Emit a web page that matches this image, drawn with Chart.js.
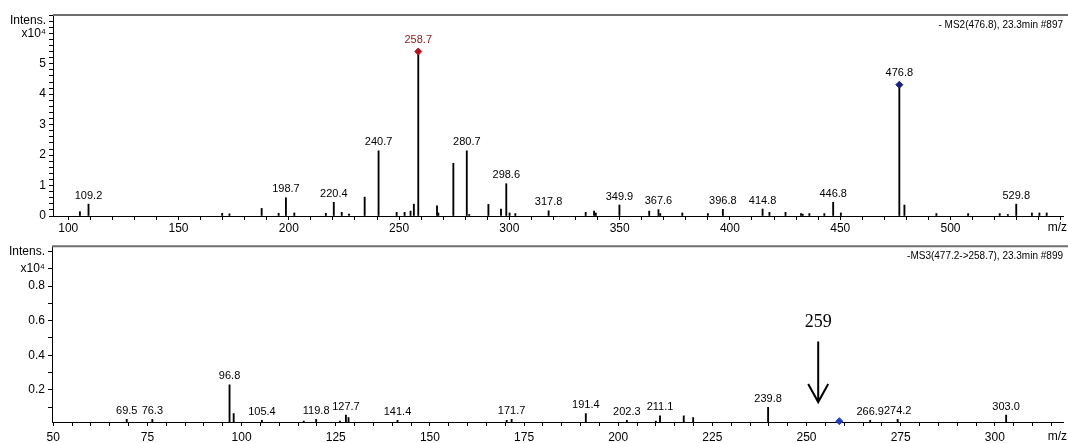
<!DOCTYPE html>
<html>
<head>
<meta charset="utf-8">
<script src="https://cdn.jsdelivr.net/npm/chart.js@4"></script>
<style>
  html, body { margin: 0; padding: 0; background: #fff; }
  .box { position: relative; width: 1068px; }
</style>
</head>
<body>
<div class="box" style="height:236px"><canvas id="chartMs2"></canvas></div>
<div class="box" style="height:207px"><canvas id="chartMs3"></canvas></div>
<script>
// MS2 spectrum (x10^4)
const ms2Mz = [105.3, 109.2, 169.8, 173.1, 187.7, 195.4, 198.7, 202.5, 216.8, 220.4,
  224.0, 227.3, 234.4, 240.7, 248.9, 252.5, 255.2, 256.7, 258.7, 267.2,
  267.8, 274.6, 280.7, 281.8, 290.5, 296.2, 298.6, 300.1, 302.7, 317.8,
  334.6, 338.4, 339.2, 349.9, 363.4, 367.6, 368.4, 378.4, 390.0, 396.8,
  414.8, 417.9, 425.2, 432.2, 433.0, 436.0, 442.8, 446.8, 450.3, 476.8,
  479.1, 493.6, 508.0, 522.3, 526.0, 529.8, 536.9, 540.3, 543.6];
const ms2Int = [0.14, 0.39, 0.09, 0.07, 0.25, 0.09, 0.60, 0.10, 0.09, 0.45,
  0.12, 0.06, 0.62, 2.14, 0.12, 0.12, 0.16, 0.39, 5.40, 0.33,
  0.10, 1.73, 2.14, 0.05, 0.38, 0.23, 1.06, 0.10, 0.08, 0.17,
  0.12, 0.16, 0.10, 0.36, 0.16, 0.21, 0.08, 0.10, 0.08, 0.22,
  0.23, 0.12, 0.12, 0.08, 0.06, 0.08, 0.08, 0.45, 0.10, 4.31,
  0.36, 0.08, 0.08, 0.08, 0.05, 0.39, 0.10, 0.10, 0.10];
const ms2Labels = ['', '109.2', '', '', '', '', '198.7', '', '', '220.4',
  '', '', '', '240.7', '', '', '', '', '258.7', '',
  '', '', '280.7', '', '', '', '298.6', '', '', '317.8',
  '', '', '', '349.9', '', '367.6', '', '', '', '396.8',
  '414.8', '', '', '', '', '', '', '446.8', '', '476.8',
  '', '', '', '', '', '529.8', '', '', ''];
const ms2MarkerMz = [258.7, 476.8];
const ms2MarkerColors = ['#b0141c', '#16207e'];

// MS3 spectrum (x10^4)
const ms3Mz = [69.5, 76.3, 96.8, 97.9, 105.4, 116.5, 119.8, 126.1, 127.7, 128.4,
  141.4, 170.4, 171.7, 191.4, 202.3, 210.0, 211.1, 217.4, 219.9, 239.8,
  258.7, 266.9, 274.2, 303.0];
const ms3Int = [0.03, 0.03, 0.23, 0.064, 0.025, 0.02, 0.03, 0.02, 0.055, 0.04,
  0.025, 0.025, 0.03, 0.064, 0.025, 0.02, 0.05, 0.05, 0.04, 0.10,
  0.02, 0.025, 0.03, 0.055];
const ms3Labels = ['69.5', '76.3', '96.8', '', '105.4', '', '119.8', '', '127.7', '',
  '141.4', '', '171.7', '191.4', '202.3', '', '211.1', '', '', '239.8',
  '', '266.9', '274.2', '303.0'];
const ms3MarkerMz = [258.7];
const ms3MarkerColors = ['#1f3cc4'];

const FONT = '"Liberation Sans", Arial, sans-serif';
Chart.defaults.font.family = FONT;
Chart.defaults.color = '#000';

function intAt(mzs, ints, m) {
  return ints[mzs.indexOf(m)];
}

function textPlugin(cfg) {
  return {
    id: 'spectrumText',
    afterDatasetsDraw(chart) {
      const ctx = chart.ctx;
      const xs = chart.scales.x, ys = chart.scales.y, a = chart.chartArea;
      ctx.save();
      // frame line on top
      ctx.strokeStyle = '#6e6e6e';
      ctx.lineWidth = 2;
      ctx.beginPath();
      ctx.moveTo(a.left, a.top);
      ctx.lineTo(chart.width, a.top);
      ctx.stroke();

      // peak labels
      ctx.font = '11px ' + FONT;
      ctx.textAlign = 'center';
      ctx.textBaseline = 'bottom';
      cfg.mz.forEach((m, i) => {
        const t = cfg.labels[i];
        if (!t) return;
        const marked = cfg.markers.includes(m);
        ctx.fillStyle = t === cfg.redLabel ? '#8b1a1a' : '#000';
        ctx.fillText(t, xs.getPixelForValue(m), ys.getPixelForValue(cfg.int[i]) - (marked ? 6 : 3));
      });

      // scan header
      ctx.fillStyle = '#000';
      ctx.font = '10px ' + FONT;
      ctx.textAlign = 'right';
      ctx.textBaseline = 'middle';
      ctx.fillText(cfg.title, a.right, a.top + 10);

      // m/z axis label
      ctx.font = '12px ' + FONT;
      ctx.fillText('m/z', chart.width - 1, a.bottom + cfg.mzGap);

      if (cfg.arrow) {
        const ax = xs.getPixelForValue(cfg.arrow.mz);
        const y0 = ys.getPixelForValue(cfg.arrow.from);
        const y1 = ys.getPixelForValue(cfg.arrow.to);
        ctx.strokeStyle = '#000';
        ctx.lineWidth = 2;
        ctx.beginPath();
        ctx.moveTo(ax, y0);
        ctx.lineTo(ax, y1);
        ctx.moveTo(ax - 10, y1 - 18);
        ctx.lineTo(ax, y1);
        ctx.lineTo(ax + 10, y1 - 18);
        ctx.stroke();
        ctx.font = '18px "Liberation Serif", "Times New Roman", serif';
        ctx.textAlign = 'center';
        ctx.fillText(cfg.arrow.text, ax, ys.getPixelForValue(cfg.arrow.textAt));
      }
      ctx.restore();
    }
  };
}

function makeChart(id, s) {
  return new Chart(document.getElementById(id), {
    type: 'bar',
    plugins: [textPlugin(s.text)],
    data: {
      datasets: [
        {
          type: 'scatter',
          data: s.markerMz.map(m => ({ x: m, y: intAt(s.mz, s.int, m) })),
          pointStyle: 'rectRot',
          pointRadius: 3.5,
          backgroundColor: s.markerColors,
          borderColor: s.markerColors,
          clip: false,
        },
        {
          data: s.mz.map((m, i) => ({ x: m, y: s.int[i] })),
          backgroundColor: '#000',
          barThickness: 1.2,
          grouped: false,
        },
      ],
    },
    options: {
      responsive: true,
      maintainAspectRatio: false,
      animation: false,
      layout: { padding: { top: s.padTop, right: 2, left: 0, bottom: 0 } },
      plugins: { legend: { display: false }, tooltip: { enabled: false } },
      scales: {
        x: {
          type: 'linear',
          min: s.xMin,
          max: s.xMax,
          offset: false,
          grid: { display: true, drawOnChartArea: false, offset: false, tickLength: 4, tickColor: '#000' },
          border: { color: '#000', width: 1 },
          ticks: {
            stepSize: s.xStep,
            includeBounds: false,
            autoSkip: false,
            maxRotation: 0,
            padding: s.xPad,
            font: { size: 12 },
            callback: v => {
              const r = Math.round(v);
              return (r % s.xMajor === 0 && r <= s.xLastLabel) ? String(r) : '';
            },
          },
          afterFit: sc => { sc.height = s.xHeight; },
        },
        y: {
          min: s.yMin,
          max: s.yMax,
          grid: { display: true, drawOnChartArea: false, tickLength: 4, tickColor: '#000' },
          border: { color: '#000', width: 1 },
          ticks: {
            stepSize: s.yStep,
            includeBounds: false,
            autoSkip: false,
            padding: 3,
            font: { size: 12 },
            callback: v => {
              const r = Math.round(v * 10) / 10;
              if (s.yText[r]) return s.yText[r];
              return s.yLabels.includes(r) ? String(r) : '';
            },
          },
          afterFit: sc => { sc.width = s.yWidth; },
        },
      },
    },
  });
}

makeChart('chartMs2', {
  mz: ms2Mz, int: ms2Int, markerMz: ms2MarkerMz, markerColors: ms2MarkerColors,
  padTop: 15, xHeight: 20, yWidth: 53, xPad: 1,
  xMin: 93.1, xMax: 551, xStep: 10, xMajor: 50, xLastLabel: 500,
  yMin: 0, yMax: 6.6, yStep: 0.2,
  yLabels: [0, 1, 2, 3, 4, 5], yText: { 6: 'x10\u2074', 6.4: 'Intens.' },
  text: {
    mz: ms2Mz, int: ms2Int, labels: ms2Labels, markers: ms2MarkerMz, redLabel: '258.7',
    title: '- MS2(476.8), 23.3min #897', mzGap: 12,
  },
});

makeChart('chartMs3', {
  mz: ms3Mz, int: ms3Int, markerMz: ms3MarkerMz, markerColors: ms3MarkerColors,
  padTop: 7, xHeight: 21, yWidth: 52, xPad: 4,
  xMin: 49.66, xMax: 318.1, xStep: 5, xMajor: 25, xLastLabel: 300,
  yMin: 0.015, yMax: 1.03, yStep: 0.1,
  yLabels: [0.2, 0.4, 0.6, 0.8], yText: { 0.9: 'x10\u2074', 1: 'Intens.' },
  text: {
    mz: ms3Mz, int: ms3Int, labels: ms3Labels, markers: ms3MarkerMz, redLabel: null,
    title: '-MS3(477.2->258.7), 23.3min #899', mzGap: 15,
    arrow: { mz: 253.1, from: 0.48, to: 0.13, text: '259', textAt: 0.59 },
  },
});
</script>
</body>
</html>
